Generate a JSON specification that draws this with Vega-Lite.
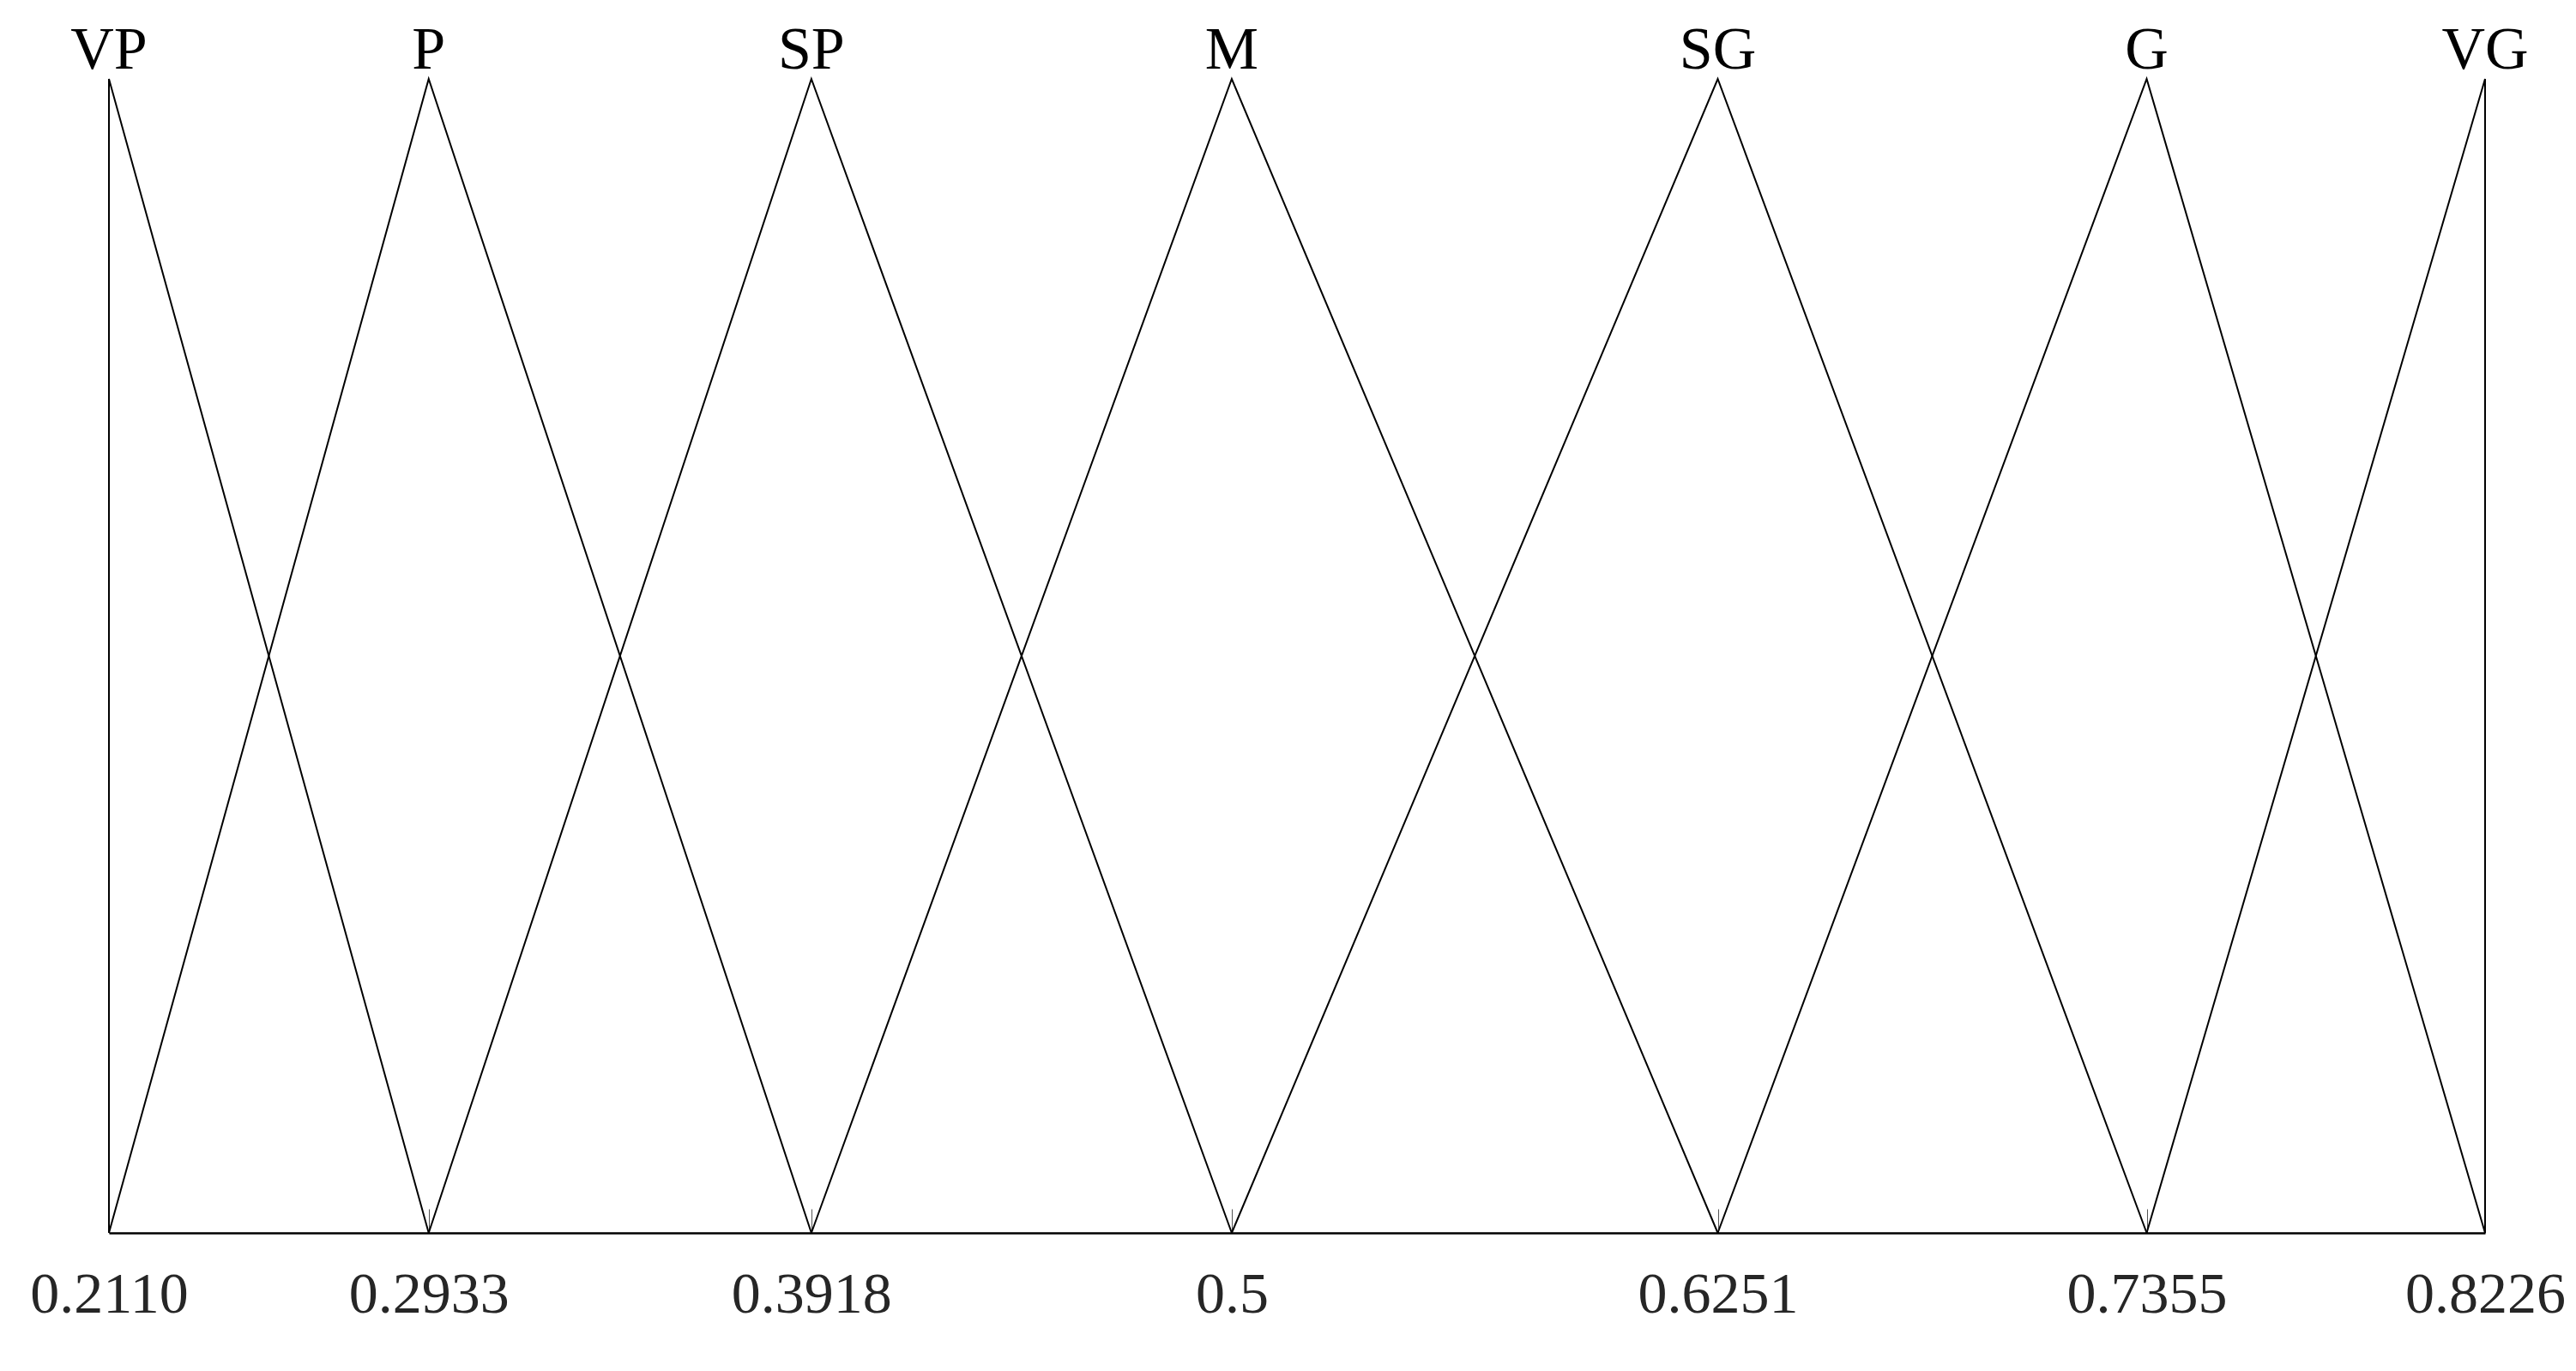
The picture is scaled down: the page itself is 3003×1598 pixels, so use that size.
{
  "$schema": "https://vega.github.io/schema/vega-lite/v6.json",
  "autosize": {"type": "none"},
  "padding": {"left": 127, "top": 92, "right": 106, "bottom": 161},
  "width": 2770,
  "height": 1345,
  "background": "white",
  "config": {"view": {"stroke": null}},
  "datasets": {
    "mf": [
      {"term": "VP", "i": 0, "x": 0.2110, "mu": 0},
      {"term": "VP", "i": 1, "x": 0.2110, "mu": 1},
      {"term": "VP", "i": 2, "x": 0.2933, "mu": 0},
      {"term": "P", "i": 0, "x": 0.2110, "mu": 0},
      {"term": "P", "i": 1, "x": 0.2933, "mu": 1},
      {"term": "P", "i": 2, "x": 0.3918, "mu": 0},
      {"term": "SP", "i": 0, "x": 0.2933, "mu": 0},
      {"term": "SP", "i": 1, "x": 0.3918, "mu": 1},
      {"term": "SP", "i": 2, "x": 0.5, "mu": 0},
      {"term": "M", "i": 0, "x": 0.3918, "mu": 0},
      {"term": "M", "i": 1, "x": 0.5, "mu": 1},
      {"term": "M", "i": 2, "x": 0.6251, "mu": 0},
      {"term": "SG", "i": 0, "x": 0.5, "mu": 0},
      {"term": "SG", "i": 1, "x": 0.6251, "mu": 1},
      {"term": "SG", "i": 2, "x": 0.7355, "mu": 0},
      {"term": "G", "i": 0, "x": 0.6251, "mu": 0},
      {"term": "G", "i": 1, "x": 0.7355, "mu": 1},
      {"term": "G", "i": 2, "x": 0.8226, "mu": 0},
      {"term": "VG", "i": 0, "x": 0.7355, "mu": 0},
      {"term": "VG", "i": 1, "x": 0.8226, "mu": 1},
      {"term": "VG", "i": 2, "x": 0.8226, "mu": 0}
    ],
    "labels": [
      {"term": "VP", "x": 0.2110},
      {"term": "P", "x": 0.2933},
      {"term": "SP", "x": 0.3918},
      {"term": "M", "x": 0.5},
      {"term": "SG", "x": 0.6251},
      {"term": "G", "x": 0.7355},
      {"term": "VG", "x": 0.8226}
    ]
  },
  "layer": [
    {
      "data": {"name": "mf"},
      "mark": {"type": "line", "color": "black", "strokeWidth": 2},
      "encoding": {
        "x": {
          "field": "x", "type": "quantitative",
          "scale": {"domain": [0.211, 0.8226], "nice": false, "zero": false},
          "axis": {
            "title": null,
            "values": [0.211, 0.2933, 0.3918, 0.5, 0.6251, 0.7355, 0.8226],
            "labelExpr": "datum.value == 0.211 ? '0.2110' : '' + datum.value",
            "labelFont": "Liberation Serif",
            "labelFontSize": 68,
            "labelColor": "#262626",
            "labelPadding": 66,
            "labelLimit": 0,
            "labelFlush": false,
            "labelOverlap": false,
            "domainColor": "black",
            "domainWidth": 2.5,
            "tickColor": "#555555",
            "tickWidth": 1,
            "tickSize": -28,
            "grid": false
          }
        },
        "y": {
          "field": "mu", "type": "quantitative",
          "scale": {"domain": [0, 1], "nice": false},
          "axis": null
        },
        "detail": {"field": "term"},
        "order": {"field": "i"}
      }
    },
    {
      "data": {"name": "labels"},
      "mark": {"type": "text", "font": "Liberation Serif", "fontSize": 70, "color": "black", "baseline": "alphabetic", "align": "center", "dy": -12},
      "encoding": {
        "x": {"field": "x", "type": "quantitative"},
        "y": {"datum": 1},
        "text": {"field": "term"}
      }
    }
  ]
}
